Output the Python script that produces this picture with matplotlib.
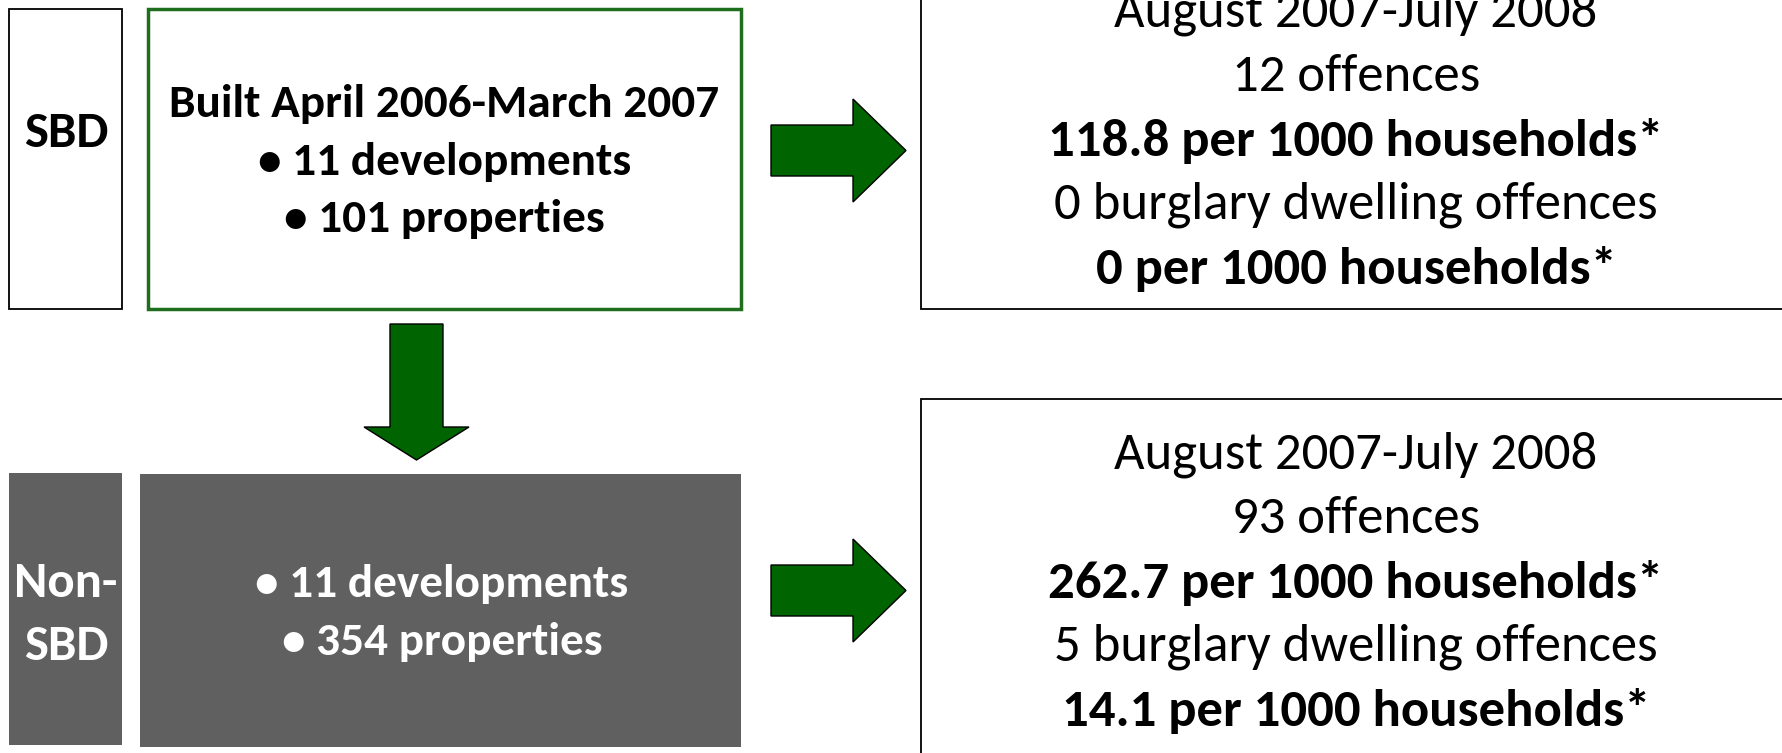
import matplotlib
matplotlib.use("Agg")
import matplotlib.pyplot as plt
from matplotlib.patches import Rectangle, FancyArrow

plt.rcParams['font.family'] = ['Carlito', 'Lato', 'DejaVu Sans']

# ---- content ----
sbd_label = ["SBD"]
nonsbd_label = ["Non-", "SBD"]
sbd_header = "Built April 2006-March 2007"
sbd_bullets = ["\u2022 11 developments", "\u2022 101 properties"]
nonsbd_bullets = ["\u2022 11 developments", "\u2022 354 properties"]
period = "August 2007-July 2008"
offences = [12, 93]
rate_all = ["118.8", "262.7"]
burglary = [0, 5]
rate_burglary = ["0", "14.1"]

W, H = 1782, 753
fig = plt.figure(figsize=(W / 100, H / 100), dpi=100)
ax = fig.add_axes([0, 0, 1, 1])
ax.set_xlim(0, W)
ax.set_ylim(H, 0)
ax.axis('off')

GREEN = '#006400'
GREEN_EDGE = '#1e6e1e'
GREY = '#606060'

# left label boxes
ax.add_patch(Rectangle((9, 9), 113, 300, fc='white', ec='black', lw=1.3))
ax.add_patch(Rectangle((148, 9), 593, 300, fc='white', ec=GREEN_EDGE, lw=2.5))
ax.add_patch(Rectangle((9, 473), 113, 272, fc=GREY, ec='none'))
ax.add_patch(Rectangle((140, 474), 601, 273, fc=GREY, ec='none'))

# right result boxes
ax.add_patch(Rectangle((921, -20), 900, 329, fc='white', ec='black', lw=1.3))
ax.add_patch(Rectangle((921, 399), 900, 400, fc='white', ec='black', lw=1.3))

# arrows
for yc in (150.5, 590.5):
    ax.add_patch(FancyArrow(771, yc, 135, 0, width=51, head_width=103, head_length=53,
                            length_includes_head=True, fc=GREEN, ec='black', lw=1))
ax.add_patch(FancyArrow(416.5, 324, 0, 136, width=53, head_width=105, head_length=33,
                        length_includes_head=True, fc=GREEN, ec='black', lw=1))

fs_label = 36.5
fs_left = 34
# SBD labels
ax.text(66, 133, sbd_label[0], ha='center', va='center', fontsize=fs_label, fontweight='bold', color='black')
for t, y in zip(nonsbd_label, (583, 646)):
    ax.text(66, y, t, ha='center', va='center', fontsize=fs_label, fontweight='bold', color='white')

# SBD box text
ax.text(444.5, 104, sbd_header, ha='center', va='center', fontsize=fs_left, fontweight='bold')
ax.text(444.5, 162, sbd_bullets[0], ha='center', va='center', fontsize=fs_left, fontweight='bold')
ax.text(444.5, 219, sbd_bullets[1], ha='center', va='center', fontsize=fs_left, fontweight='bold')

# Non-SBD box text
ax.text(442, 584, nonsbd_bullets[0], ha='center', va='center', fontsize=fs_left, fontweight='bold', color='white')
ax.text(442, 642, nonsbd_bullets[1], ha='center', va='center', fontsize=fs_left, fontweight='bold', color='white')

# results text
fs_right = 38
for i, y0 in enumerate((13, 455)):
    lines = [
        (period, 'normal'),
        (f"{offences[i]} offences", 'normal'),
        (f"{rate_all[i]} per 1000 households*", 'bold'),
        (f"{burglary[i]} burglary dwelling offences", 'normal'),
        (f"{rate_burglary[i]} per 1000 households*", 'bold'),
    ]
    for j, (t, w) in enumerate(lines):
        ax.text(1356, y0 + j * 64, t, ha='center', va='center', fontsize=fs_right, fontweight=w)

fig.savefig('out.png', dpi=100)
